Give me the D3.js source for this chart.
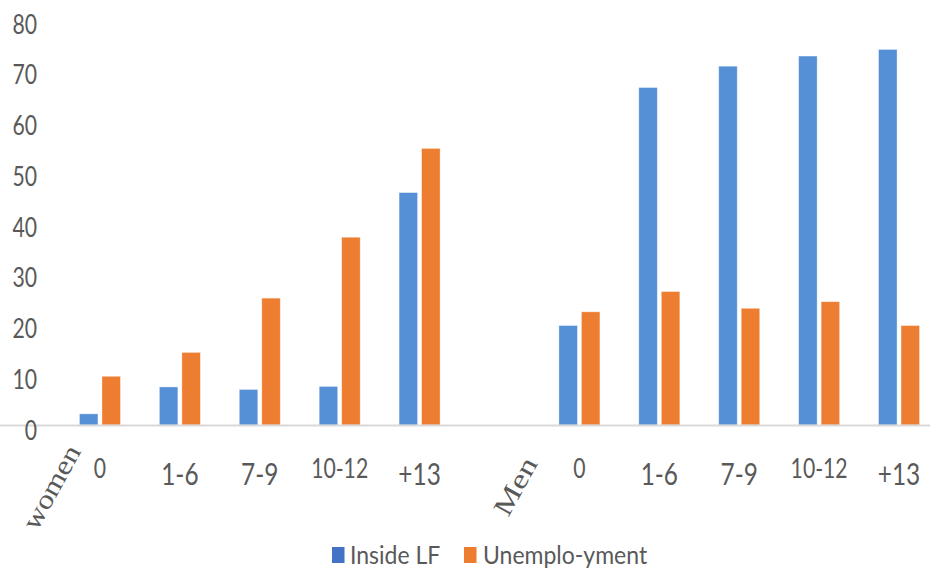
<!DOCTYPE html>
<html>
<head>
<meta charset="utf-8">
<script src="https://cdn.jsdelivr.net/npm/d3@7"></script>
<style>
  html, body { margin: 0; padding: 0; background: #fff; }
  svg { display: block; }
</style>
</head>
<body>
<svg id="chart" width="930" height="571"></svg>
<script>
// ---- data ----
const educLevels = ["0", "1-6", "7-9", "10-12", "+13"];
const groups = ["women", "Men"];
const seriesNames = ["Inside LF", "Unemplo-yment"];
const womenInside = [2.2, 7.5, 7.0, 7.6, 45.8];
const womenUnemp  = [9.6, 14.3, 25.0, 37.0, 54.5];
const menInside   = [19.6, 66.5, 70.7, 72.7, 74.0];
const menUnemp    = [22.3, 26.3, 23.0, 24.3, 19.6];
const yTicks = [0, 10, 20, 30, 40, 50, 60, 70, 80];

// build slots: women levels, an empty gap slot, men levels
const slots = [];
educLevels.forEach((l, i) => slots.push({ key: "w" + i, label: l, values: [womenInside[i], womenUnemp[i]] }));
slots.push({ key: "gap", label: "", values: [] });
educLevels.forEach((l, i) => slots.push({ key: "m" + i, label: l, values: [menInside[i], menUnemp[i]] }));

const colors = ["#5590D6", "#ED7D31"];
const legendColors = ["#4472C4", "#ED7D31"];
const textColor = "#595959";
const fontSans = "Lato, 'Noto Sans', sans-serif";
const sx = 0.8; // horizontal compression of the text glyphs

const svg = d3.select("#chart");
const baseY = 425;

const x = d3.scaleBand().domain(slots.map(d => d.key)).range([60, 939]).paddingInner(0).paddingOuter(0);
const y = d3.scaleLinear().domain([0, 80]).range([baseY, 19]);
const bw = x.bandwidth();
const xs = d3.scaleBand().domain(seriesNames).range([bw / 2 - 20.5, bw / 2 + 20.5]).paddingInner(0.178).paddingOuter(0);

// bars
const slotG = svg.append("g").selectAll("g").data(slots).join("g")
  .attr("transform", d => `translate(${x(d.key)},0)`);
slotG.selectAll("rect").data(d => d.values.map((v, i) => ({ v, i }))).join("rect")
  .attr("x", d => xs(seriesNames[d.i]))
  .attr("width", xs.bandwidth())
  .attr("y", d => y(d.v))
  .attr("height", d => y(0) - y(d.v))
  .attr("fill", d => colors[d.i])
  .attr("stroke", "#ffffff")
  .attr("stroke-opacity", 0.45)
  .attr("stroke-width", 0.8);

// x axis
const xAxis = d3.axisBottom(x).tickSize(0).tickFormat(k => slots.find(s => s.key === k).label);
const xg = svg.append("g").attr("transform", `translate(0,${baseY})`).call(xAxis);
xg.select(".domain").attr("stroke", "#d9d9d9").attr("stroke-width", 2.2).attr("d", "M-2,0.5H940");
const smallLabels = new Set(["0", "10-12"]);
const isSmall = k => smallLabels.has(slots.find(s => s.key === k).label);
xg.selectAll(".tick text")
  .attr("fill", textColor)
  .attr("font-family", fontSans)
  .attr("font-size", d => isSmall(d) ? 26.5 : 30.5)
  .attr("dy", null)
  .attr("y", d => isSmall(d) ? 53 : 60)
  .attr("transform", `scale(${sx},1)`)
  .attr("text-anchor", "middle");

// y axis
const yAxis = d3.axisLeft(y).tickValues(yTicks).tickSize(0).tickPadding(0);
const yg = svg.append("g").attr("transform", "translate(37,0)").call(yAxis);
yg.select(".domain").remove();
yg.selectAll(".tick text")
  .attr("fill", textColor)
  .attr("font-family", fontSans)
  .attr("font-size", 26.5)
  .attr("dy", null)
  .attr("x", 0)
  .attr("y", 14)
  .attr("text-anchor", "end")
  .attr("transform", `scale(${sx},1)`);

// group labels (rotated, serif)
const groupPos = [{ x: 51, y: 487, len: 92 }, { x: 515, y: 486, len: 62 }];
svg.append("g").selectAll("text").data(groups).join("text")
  .attr("transform", (d, i) => `translate(${groupPos[i].x},${groupPos[i].y}) rotate(-61)`)
  .attr("text-anchor", "middle")
  .attr("dy", "0.35em")
  .attr("font-family", "'Liberation Serif', 'DejaVu Serif', serif")
  .attr("font-size", 27)
  .attr("fill", textColor)
  .attr("textLength", (d, i) => groupPos[i].len)
  .attr("lengthAdjust", "spacingAndGlyphs")
  .text(d => d);

// legend
const legendItems = [{ x: 332, tx: 350 }, { x: 464, tx: 483 }];
const lsx = 0.92;
const lg = svg.append("g").selectAll("g").data(seriesNames).join("g");
lg.append("rect")
  .attr("x", (d, i) => legendItems[i].x)
  .attr("y", 547)
  .attr("width", 12.5)
  .attr("height", 16)
  .attr("fill", (d, i) => legendColors[i]);
lg.append("text")
  .attr("x", (d, i) => legendItems[i].tx / lsx)
  .attr("y", 564)
  .attr("transform", `scale(${lsx},1)`)
  .attr("font-family", fontSans)
  .attr("font-size", 25)
  .attr("fill", textColor)
  .text(d => d);
</script>
</body>
</html>
